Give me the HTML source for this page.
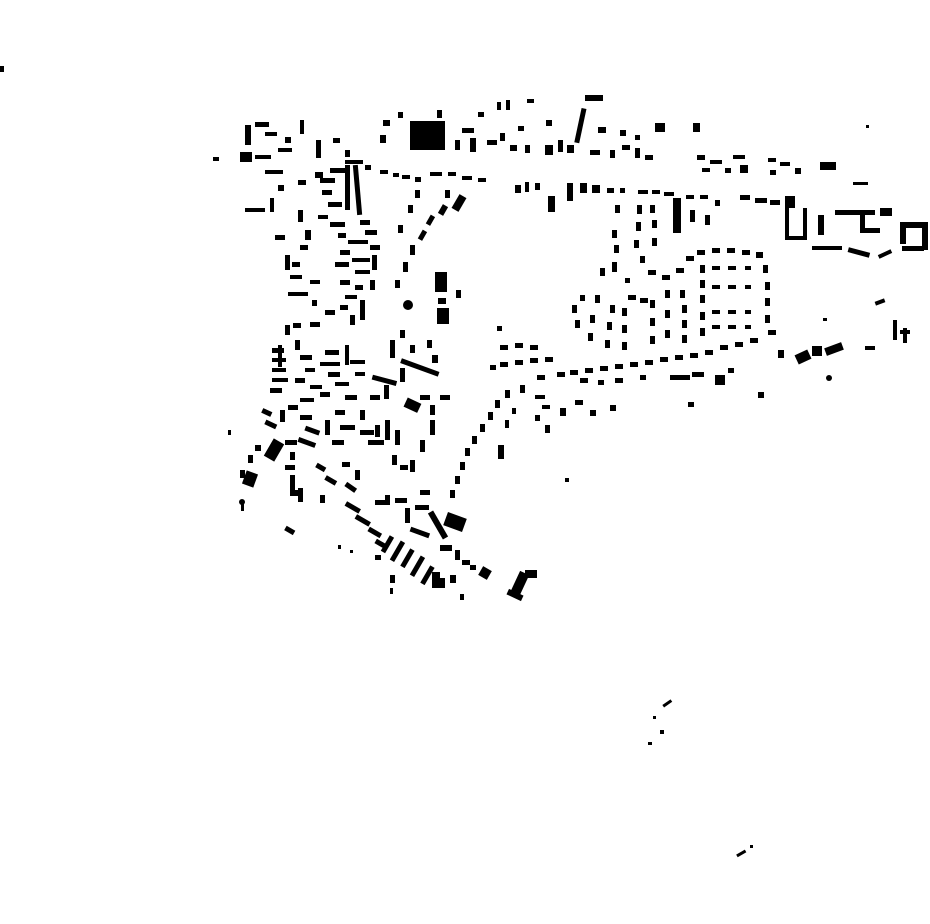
<!DOCTYPE html>
<html><head><meta charset="utf-8"><style>html,body{margin:0;padding:0;background:#fff}svg{display:block}</style></head>
<body>
<svg width="930" height="924" viewBox="0 0 930 924" xmlns="http://www.w3.org/2000/svg" fill="#000">
<!-- isolated -->
<rect x="0" y="66" width="4" height="6"/>
<!-- top row -->
<rect x="410" y="121" width="35" height="29"/>
<rect x="437" y="110" width="5" height="8"/>
<rect x="585" y="95" width="18" height="6"/>
<rect x="578" y="108" width="5" height="35" transform="rotate(12 580 125)"/>
<rect x="655" y="123" width="10" height="9"/>
<rect x="693" y="123" width="7" height="9"/>
<rect x="598" y="127" width="8" height="6"/>
<rect x="546" y="120" width="6" height="6"/>
<rect x="518" y="126" width="6" height="5"/>
<rect x="497" y="102" width="4" height="8"/>
<rect x="506" y="100" width="4" height="10"/>
<rect x="527" y="99" width="7" height="4"/>
<rect x="478" y="112" width="6" height="5"/>
<rect x="462" y="128" width="12" height="5"/>
<rect x="470" y="138" width="6" height="14"/>
<rect x="455" y="140" width="5" height="10"/>
<rect x="487" y="140" width="10" height="5"/>
<rect x="500" y="133" width="5" height="8"/>
<rect x="510" y="145" width="7" height="6"/>
<rect x="525" y="145" width="5" height="8"/>
<rect x="545" y="145" width="8" height="10"/>
<rect x="558" y="140" width="5" height="12"/>
<rect x="567" y="145" width="7" height="8"/>
<rect x="590" y="150" width="10" height="5"/>
<rect x="610" y="150" width="5" height="8"/>
<rect x="622" y="145" width="8" height="5"/>
<rect x="635" y="148" width="5" height="10"/>
<rect x="645" y="155" width="8" height="5"/>
<rect x="620" y="130" width="6" height="6"/>
<rect x="635" y="135" width="5" height="5"/>
<rect x="383" y="120" width="7" height="6"/>
<rect x="380" y="135" width="6" height="8"/>
<rect x="398" y="112" width="5" height="6"/>
<rect x="345" y="150" width="5" height="7"/>
<rect x="333" y="138" width="7" height="5"/>
<rect x="316" y="140" width="5" height="18"/>
<rect x="300" y="120" width="4" height="14"/>
<rect x="245" y="125" width="6" height="20"/>
<rect x="255" y="122" width="14" height="5"/>
<rect x="265" y="132" width="12" height="4"/>
<rect x="240" y="152" width="12" height="10"/>
<rect x="255" y="155" width="16" height="4"/>
<rect x="278" y="148" width="14" height="4"/>
<rect x="285" y="137" width="6" height="6"/>
<rect x="213" y="157" width="6" height="4"/>
<rect x="265" y="170" width="18" height="4"/>
<!-- top street row -->
<rect x="298" y="180" width="8" height="5"/>
<rect x="315" y="172" width="8" height="6"/>
<rect x="330" y="168" width="15" height="5"/>
<rect x="345" y="160" width="18" height="4"/>
<rect x="365" y="165" width="6" height="5"/>
<rect x="380" y="170" width="8" height="4"/>
<rect x="393" y="173" width="6" height="4"/>
<rect x="402" y="175" width="8" height="4"/>
<rect x="415" y="177" width="6" height="5"/>
<rect x="430" y="172" width="12" height="4"/>
<rect x="448" y="172" width="8" height="4"/>
<rect x="462" y="176" width="10" height="4"/>
<rect x="478" y="178" width="8" height="4"/>
<rect x="515" y="185" width="6" height="8"/>
<rect x="525" y="182" width="4" height="10"/>
<rect x="535" y="183" width="5" height="7"/>
<rect x="548" y="196" width="7" height="16"/>
<rect x="567" y="183" width="6" height="18"/>
<rect x="580" y="183" width="7" height="10"/>
<rect x="592" y="185" width="8" height="8"/>
<rect x="607" y="188" width="7" height="5"/>
<rect x="620" y="188" width="5" height="5"/>
<rect x="638" y="190" width="10" height="4"/>
<rect x="652" y="190" width="8" height="4"/>
<rect x="664" y="192" width="10" height="4"/>
<rect x="673" y="198" width="8" height="35"/>
<rect x="686" y="195" width="8" height="4"/>
<rect x="700" y="195" width="8" height="4"/>
<rect x="715" y="200" width="5" height="6"/>
<rect x="740" y="195" width="10" height="5"/>
<rect x="755" y="198" width="12" height="5"/>
<rect x="770" y="200" width="10" height="5"/>
<rect x="785" y="196" width="10" height="12"/>
<rect x="785" y="208" width="4" height="30"/>
<rect x="785" y="236" width="22" height="4"/>
<rect x="803" y="208" width="4" height="30"/>
<!-- right top cluster -->
<rect x="697" y="155" width="8" height="5"/>
<rect x="710" y="160" width="12" height="4"/>
<rect x="702" y="168" width="8" height="4"/>
<rect x="733" y="155" width="12" height="4"/>
<rect x="740" y="165" width="8" height="8"/>
<rect x="725" y="168" width="6" height="5"/>
<rect x="768" y="158" width="8" height="4"/>
<rect x="780" y="162" width="10" height="4"/>
<rect x="770" y="170" width="6" height="5"/>
<rect x="795" y="168" width="6" height="6"/>
<rect x="820" y="162" width="16" height="8"/>
<rect x="853" y="182" width="15" height="3"/>
<rect x="866" y="125" width="3" height="3"/>
<rect x="818" y="215" width="6" height="20"/>
<rect x="835" y="210" width="40" height="5"/>
<rect x="860" y="210" width="5" height="20"/>
<rect x="860" y="228" width="20" height="5"/>
<rect x="880" y="208" width="12" height="8"/>
<rect x="900" y="222" width="28" height="6"/>
<rect x="900" y="222" width="6" height="22"/>
<rect x="922" y="222" width="6" height="28"/>
<rect x="902" y="246" width="22" height="5"/>
<rect x="812" y="246" width="30" height="4"/>
<rect x="848" y="250" width="22" height="5" transform="rotate(15 859 252)"/>
<rect x="878" y="252" width="14" height="4" transform="rotate(-25 885 254)"/>
<rect x="875" y="300" width="10" height="4" transform="rotate(-20 880 302)"/>
<rect x="893" y="320" width="4" height="20"/>
<rect x="900" y="330" width="10" height="4"/>
<rect x="903" y="328" width="4" height="15"/>
<rect x="796" y="352" width="14" height="10" transform="rotate(-25 803 357)"/>
<rect x="812" y="346" width="10" height="10"/>
<rect x="825" y="345" width="18" height="8" transform="rotate(-20 834 349)"/>
<rect x="865" y="346" width="10" height="4"/>
<rect x="778" y="350" width="6" height="8"/>
<circle cx="829" cy="378" r="3"/>
<rect x="823" y="318" width="4" height="3"/>
<!-- ring of dots -->
<g>
<rect x="637" y="205" width="5" height="9"/><rect x="636" y="222" width="5" height="9"/><rect x="634" y="240" width="5" height="8"/>
<rect x="640" y="256" width="5" height="7"/><rect x="648" y="270" width="8" height="5"/><rect x="662" y="275" width="8" height="5"/>
<rect x="676" y="268" width="8" height="5"/><rect x="686" y="256" width="8" height="5"/><rect x="697" y="250" width="8" height="5"/>
<rect x="712" y="248" width="8" height="5"/><rect x="727" y="248" width="8" height="5"/><rect x="742" y="250" width="8" height="5"/>
<rect x="756" y="252" width="7" height="6"/><rect x="763" y="265" width="5" height="8"/><rect x="765" y="282" width="5" height="8"/>
<rect x="765" y="298" width="5" height="8"/><rect x="765" y="315" width="5" height="8"/><rect x="768" y="330" width="8" height="5"/>
<rect x="750" y="338" width="8" height="5"/><rect x="735" y="342" width="8" height="5"/><rect x="720" y="345" width="8" height="5"/>
<rect x="705" y="350" width="8" height="5"/><rect x="690" y="353" width="8" height="5"/><rect x="675" y="355" width="8" height="5"/>
<rect x="660" y="357" width="8" height="5"/><rect x="645" y="360" width="8" height="5"/><rect x="630" y="362" width="8" height="5"/>
<rect x="615" y="364" width="8" height="5"/><rect x="600" y="366" width="8" height="5"/><rect x="585" y="368" width="8" height="5"/>
<rect x="570" y="370" width="8" height="5"/><rect x="557" y="372" width="8" height="5"/>
<rect x="700" y="265" width="5" height="8"/><rect x="700" y="280" width="5" height="8"/><rect x="700" y="295" width="5" height="8"/>
<rect x="700" y="312" width="5" height="8"/><rect x="700" y="328" width="5" height="8"/>
<rect x="712" y="266" width="8" height="4"/><rect x="728" y="266" width="8" height="4"/><rect x="745" y="266" width="6" height="4"/>
<rect x="712" y="285" width="8" height="4"/><rect x="728" y="285" width="8" height="4"/><rect x="745" y="285" width="6" height="4"/>
<rect x="712" y="310" width="8" height="4"/><rect x="728" y="310" width="8" height="4"/><rect x="745" y="310" width="6" height="4"/>
<rect x="712" y="325" width="8" height="4"/><rect x="728" y="325" width="8" height="4"/><rect x="745" y="325" width="6" height="4"/>
<rect x="680" y="290" width="5" height="8"/><rect x="682" y="305" width="5" height="8"/><rect x="682" y="320" width="5" height="8"/><rect x="682" y="335" width="5" height="8"/>
<rect x="665" y="290" width="5" height="8"/><rect x="665" y="310" width="5" height="8"/><rect x="665" y="330" width="5" height="8"/>
<rect x="650" y="300" width="5" height="8"/><rect x="650" y="318" width="5" height="8"/><rect x="650" y="336" width="5" height="8"/>
<rect x="628" y="295" width="8" height="5"/><rect x="640" y="298" width="8" height="5"/>
<rect x="622" y="308" width="5" height="8"/><rect x="622" y="325" width="5" height="8"/><rect x="622" y="342" width="5" height="8"/>
<rect x="610" y="305" width="5" height="8"/><rect x="607" y="322" width="5" height="8"/><rect x="605" y="340" width="5" height="8"/>
<rect x="595" y="295" width="5" height="8"/><rect x="590" y="315" width="5" height="8"/><rect x="588" y="333" width="5" height="8"/>
<rect x="580" y="295" width="5" height="6"/><rect x="572" y="305" width="5" height="8"/><rect x="575" y="320" width="5" height="8"/>
<rect x="615" y="205" width="5" height="8"/><rect x="612" y="230" width="5" height="8"/><rect x="614" y="245" width="5" height="8"/><rect x="612" y="262" width="5" height="10"/>
<rect x="600" y="268" width="5" height="8"/><rect x="625" y="278" width="5" height="5"/>
<rect x="650" y="205" width="5" height="8"/><rect x="652" y="220" width="5" height="8"/><rect x="652" y="238" width="5" height="8"/>
<rect x="690" y="210" width="5" height="12"/><rect x="705" y="215" width="5" height="10"/>
</g>
<rect x="670" y="375" width="20" height="5"/>
<rect x="692" y="372" width="12" height="5"/>
<rect x="715" y="375" width="10" height="10"/>
<rect x="728" y="368" width="6" height="5"/>
<rect x="688" y="402" width="6" height="5"/>
<rect x="758" y="392" width="6" height="6"/>
<rect x="640" y="375" width="6" height="5"/>
<rect x="615" y="378" width="8" height="5"/>
<rect x="598" y="380" width="6" height="5"/>
<rect x="580" y="378" width="8" height="5"/>
<!-- central-east crescent -->
<rect x="500" y="345" width="8" height="5"/><rect x="515" y="343" width="8" height="5"/><rect x="530" y="345" width="8" height="5"/>
<rect x="545" y="357" width="8" height="5"/><rect x="530" y="358" width="8" height="5"/><rect x="515" y="360" width="8" height="5"/>
<rect x="500" y="362" width="8" height="5"/><rect x="490" y="365" width="6" height="5"/><rect x="497" y="326" width="5" height="5"/>
<rect x="537" y="375" width="8" height="5"/><rect x="520" y="385" width="5" height="8"/><rect x="505" y="390" width="5" height="8"/>
<rect x="495" y="400" width="5" height="8"/><rect x="488" y="412" width="5" height="8"/><rect x="480" y="424" width="5" height="8"/>
<rect x="472" y="436" width="5" height="8"/><rect x="465" y="448" width="5" height="8"/><rect x="460" y="462" width="5" height="8"/>
<rect x="455" y="476" width="5" height="8"/><rect x="450" y="490" width="5" height="8"/><rect x="498" y="445" width="6" height="14"/>
<rect x="535" y="395" width="10" height="4"/><rect x="542" y="405" width="8" height="4"/><rect x="545" y="425" width="5" height="8"/>
<rect x="535" y="415" width="5" height="6"/><rect x="560" y="408" width="6" height="8"/><rect x="575" y="400" width="8" height="5"/>
<rect x="590" y="410" width="6" height="6"/><rect x="610" y="405" width="6" height="6"/><rect x="565" y="478" width="4" height="4"/>
<rect x="505" y="420" width="4" height="8"/><rect x="512" y="408" width="4" height="6"/>
<!-- central column near 440 -->
<rect x="435" y="272" width="12" height="20"/>
<rect x="437" y="308" width="12" height="16"/>
<rect x="438" y="298" width="8" height="6"/>
<rect x="456" y="290" width="5" height="8"/>
<circle cx="408" cy="305" r="5"/>
<rect x="455" y="195" width="8" height="16" transform="rotate(30 459 203)"/>
<rect x="440" y="205" width="6" height="10" transform="rotate(30 443 210)"/>
<rect x="428" y="215" width="5" height="10" transform="rotate(30 430 220)"/>
<rect x="420" y="230" width="5" height="10" transform="rotate(30 422 235)"/>
<rect x="410" y="245" width="5" height="10"/>
<rect x="403" y="262" width="5" height="10"/>
<rect x="395" y="280" width="5" height="8"/>
<rect x="408" y="205" width="5" height="8"/>
<rect x="398" y="225" width="5" height="8"/>
<rect x="415" y="190" width="5" height="8"/>
<rect x="445" y="190" width="5" height="8"/>
<rect x="400" y="330" width="5" height="8"/><rect x="390" y="340" width="5" height="18"/>
<rect x="410" y="345" width="5" height="8"/><rect x="427" y="340" width="5" height="8"/><rect x="432" y="355" width="6" height="8"/>
<rect x="400" y="365" width="40" height="5" transform="rotate(20 420 367)"/>
<rect x="400" y="368" width="5" height="14"/>
<rect x="372" y="378" width="25" height="5" transform="rotate(15 385 380)"/>
<rect x="384" y="385" width="5" height="14"/>
<!-- left column -->
<rect x="345" y="165" width="5" height="45"/>
<rect x="355" y="165" width="5" height="50" transform="rotate(-5 357 190)"/>
<rect x="320" y="178" width="15" height="5"/><rect x="322" y="190" width="10" height="5"/><rect x="328" y="202" width="14" height="5"/>
<rect x="318" y="215" width="10" height="4"/><rect x="330" y="222" width="15" height="5"/><rect x="338" y="233" width="8" height="5"/>
<rect x="360" y="220" width="10" height="5"/><rect x="365" y="230" width="12" height="5"/><rect x="370" y="245" width="10" height="5"/>
<rect x="348" y="240" width="20" height="4"/><rect x="340" y="250" width="10" height="5"/><rect x="352" y="258" width="18" height="4"/>
<rect x="372" y="255" width="5" height="15"/><rect x="335" y="262" width="14" height="5"/><rect x="355" y="270" width="15" height="4"/>
<rect x="340" y="280" width="10" height="5"/><rect x="355" y="285" width="8" height="5"/><rect x="370" y="280" width="5" height="10"/>
<rect x="345" y="295" width="12" height="4"/><rect x="360" y="300" width="5" height="20"/><rect x="340" y="305" width="8" height="5"/>
<rect x="325" y="310" width="10" height="5"/><rect x="350" y="315" width="5" height="10"/><rect x="310" y="322" width="10" height="5"/>
<rect x="293" y="323" width="8" height="5"/><rect x="285" y="325" width="5" height="10"/>
<rect x="245" y="208" width="20" height="4"/><rect x="270" y="198" width="4" height="14"/><rect x="278" y="185" width="6" height="6"/>
<rect x="275" y="235" width="10" height="5"/><rect x="285" y="255" width="5" height="15"/><rect x="292" y="262" width="8" height="5"/>
<rect x="290" y="275" width="12" height="4"/><rect x="288" y="292" width="20" height="4"/><rect x="310" y="280" width="10" height="4"/>
<rect x="300" y="245" width="8" height="5"/><rect x="305" y="230" width="6" height="10"/><rect x="298" y="210" width="5" height="12"/>
<rect x="312" y="300" width="5" height="6"/>
<!-- lower left dense -->
<rect x="272" y="348" width="12" height="5"/><rect x="272" y="358" width="14" height="4"/><rect x="272" y="368" width="14" height="4"/>
<rect x="272" y="378" width="16" height="4"/><rect x="270" y="388" width="12" height="5"/><rect x="278" y="345" width="4" height="22"/>
<rect x="295" y="340" width="5" height="10"/><rect x="300" y="355" width="12" height="5"/><rect x="305" y="368" width="10" height="4"/>
<rect x="295" y="378" width="10" height="5"/><rect x="310" y="385" width="12" height="4"/><rect x="300" y="398" width="14" height="4"/>
<rect x="325" y="350" width="14" height="5"/><rect x="320" y="362" width="20" height="4"/><rect x="328" y="372" width="12" height="5"/>
<rect x="335" y="382" width="14" height="4"/><rect x="320" y="392" width="10" height="5"/><rect x="345" y="345" width="4" height="20"/>
<rect x="350" y="360" width="15" height="4"/><rect x="355" y="372" width="10" height="4"/><rect x="345" y="395" width="12" height="5"/>
<rect x="262" y="410" width="10" height="5" transform="rotate(25 267 412)"/><rect x="265" y="422" width="12" height="5" transform="rotate(25 271 424)"/>
<rect x="280" y="410" width="5" height="12"/><rect x="288" y="405" width="10" height="5"/><rect x="300" y="415" width="12" height="5"/>
<rect x="305" y="428" width="15" height="5" transform="rotate(20 312 430)"/><rect x="298" y="440" width="18" height="5" transform="rotate(20 307 442)"/>
<rect x="325" y="420" width="5" height="15"/><rect x="335" y="410" width="10" height="5"/><rect x="340" y="425" width="15" height="5"/>
<rect x="332" y="440" width="12" height="5"/><rect x="360" y="410" width="5" height="10"/><rect x="370" y="395" width="10" height="5"/>
<rect x="360" y="430" width="14" height="5"/><rect x="375" y="425" width="5" height="12"/><rect x="368" y="440" width="16" height="5"/>
<rect x="385" y="420" width="5" height="20"/><rect x="395" y="430" width="5" height="15"/><rect x="405" y="400" width="15" height="10" transform="rotate(25 412 405)"/>
<rect x="420" y="395" width="10" height="5"/><rect x="430" y="405" width="5" height="10"/><rect x="440" y="395" width="10" height="5"/>
<rect x="430" y="420" width="5" height="15"/><rect x="420" y="440" width="5" height="12"/><rect x="410" y="460" width="5" height="12"/>
<rect x="392" y="455" width="5" height="10"/><rect x="400" y="465" width="8" height="5"/>
<rect x="268" y="440" width="12" height="20" transform="rotate(30 274 450)"/>
<rect x="255" y="445" width="6" height="6"/><rect x="248" y="455" width="5" height="8"/><rect x="240" y="470" width="5" height="8"/>
<rect x="244" y="472" width="12" height="14" transform="rotate(20 250 479)"/>
<circle cx="242" cy="502" r="3"/><rect x="241" y="503" width="3" height="8"/>
<rect x="285" y="440" width="12" height="5"/><rect x="290" y="452" width="5" height="8"/>
<rect x="290" y="475" width="5" height="15"/><rect x="285" y="465" width="10" height="5"/>
<rect x="290" y="490" width="12" height="6"/><rect x="298" y="488" width="5" height="14"/>
<rect x="316" y="465" width="10" height="5" transform="rotate(30 321 467)"/>
<rect x="325" y="478" width="12" height="5" transform="rotate(30 331 480)"/>
<rect x="320" y="495" width="5" height="8"/><rect x="345" y="485" width="12" height="5" transform="rotate(35 351 487)"/>
<rect x="342" y="462" width="8" height="5"/><rect x="355" y="470" width="5" height="10"/>
<rect x="285" y="528" width="10" height="5" transform="rotate(30 290 530)"/>
<rect x="228" y="430" width="3" height="5"/>
<!-- bottom diagonal band -->
<rect x="345" y="505" width="16" height="5" transform="rotate(30 353 507)"/>
<rect x="355" y="518" width="16" height="5" transform="rotate(30 363 520)"/>
<rect x="368" y="530" width="14" height="5" transform="rotate(30 375 532)"/>
<rect x="375" y="542" width="14" height="5" transform="rotate(30 382 544)"/>
<rect x="385" y="535" width="5" height="18" transform="rotate(30 387 544)"/>
<rect x="395" y="540" width="5" height="22" transform="rotate(30 397 551)"/>
<rect x="405" y="548" width="5" height="20" transform="rotate(30 407 558)"/>
<rect x="415" y="555" width="5" height="22" transform="rotate(30 417 566)"/>
<rect x="425" y="565" width="5" height="20" transform="rotate(30 427 575)"/>
<rect x="432" y="572" width="8" height="16"/><rect x="440" y="578" width="5" height="10"/>
<rect x="390" y="575" width="5" height="8"/><rect x="390" y="588" width="3" height="6"/>
<rect x="375" y="500" width="10" height="5"/><rect x="385" y="495" width="5" height="10"/><rect x="395" y="498" width="12" height="5"/>
<rect x="405" y="508" width="5" height="15"/><rect x="415" y="505" width="14" height="5"/><rect x="420" y="490" width="10" height="5"/>
<rect x="410" y="530" width="20" height="5" transform="rotate(20 420 532)"/>
<rect x="435" y="510" width="6" height="30" transform="rotate(-30 438 525)"/>
<rect x="445" y="515" width="20" height="14" transform="rotate(20 455 522)"/>
<rect x="440" y="545" width="12" height="6"/><rect x="455" y="550" width="5" height="10"/>
<rect x="462" y="560" width="8" height="5"/><rect x="470" y="565" width="6" height="5"/><rect x="480" y="568" width="10" height="10" transform="rotate(30 485 573)"/>
<rect x="450" y="575" width="6" height="8"/><rect x="460" y="594" width="4" height="6"/><rect x="375" y="555" width="6" height="5"/>
<rect x="338" y="545" width="3" height="4"/><rect x="350" y="550" width="3" height="3"/>
<rect x="515" y="572" width="10" height="22" transform="rotate(25 520 583)"/>
<rect x="507" y="592" width="16" height="6" transform="rotate(25 515 595)"/>
<rect x="525" y="570" width="12" height="8"/>
<!-- far bottom -->
<rect x="662" y="702" width="10" height="3" transform="rotate(-35 667 703)"/>
<rect x="653" y="716" width="3" height="3"/>
<rect x="660" y="730" width="4" height="4"/>
<rect x="648" y="742" width="4" height="3"/>
<rect x="736" y="852" width="10" height="3" transform="rotate(-30 741 853)"/>
<rect x="750" y="845" width="3" height="3"/>
</svg>
</body></html>
